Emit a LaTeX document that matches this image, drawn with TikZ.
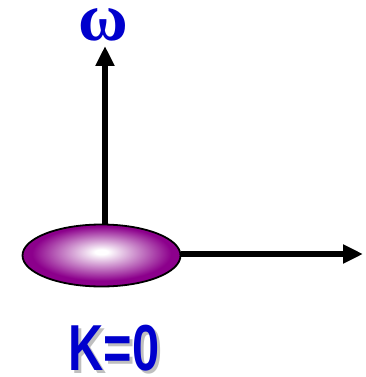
\documentclass[tikz,border=0pt]{standalone}
\usepackage{fontspec}
\newfontfamily\labelfont{Liberation Sans}
\newfontfamily\greekfont{Liberation Serif}
\usetikzlibrary{positioning,arrows.meta,shapes.geometric}
\definecolor{lensviolet}{RGB}{140,0,140}
\definecolor{labelblue}{RGB}{0,0,205}
\pgfdeclareradialshading{lensglow}{\pgfpoint{0bp}{3bp}}{color(0bp)=(white); color(2bp)=(white); color(22bp)=(lensviolet); color(50bp)=(lensviolet)}
\tikzset{
  axisarrow/.style={-{Triangle[length=20pt,width=18pt]}, line width=5.5pt},
  lens/.style={draw, ellipse, line width=1.8pt, shading=lensglow, minimum width=158pt, minimum height=62pt, inner sep=0pt},
  omegalabel/.style={font=\greekfont\bfseries\fontsize{68}{68}\selectfont, text=labelblue, inner sep=0pt},
  klabel/.style={font=\labelfont\bfseries\fontsize{65}{65}\selectfont, text=labelblue, inner sep=0pt, xscale=0.75},
  kshadow/.style={klabel, text=black, opacity=0.25}
}
\begin{document}
\begin{tikzpicture}[x=1pt, y=-1pt]
  \useasboundingbox (0,0) rectangle (366,377);
  \node[lens] (lens) at (101.5,255.5) {};
  \coordinate (wtop) at (105,46);
  \coordinate (xend) at (363,254);
  \draw[axisarrow] (wtop |- lens.north) -- (wtop);
  \draw[axisarrow] (lens.east |- xend) -- (xend);
  \node[omegalabel] (omega) at (103,25) {ω};
  \node[kshadow] (kshade) at (117,351) {K=0};
  \node[klabel] (k) at (114,348) {K=0};
\end{tikzpicture}
\end{document}
